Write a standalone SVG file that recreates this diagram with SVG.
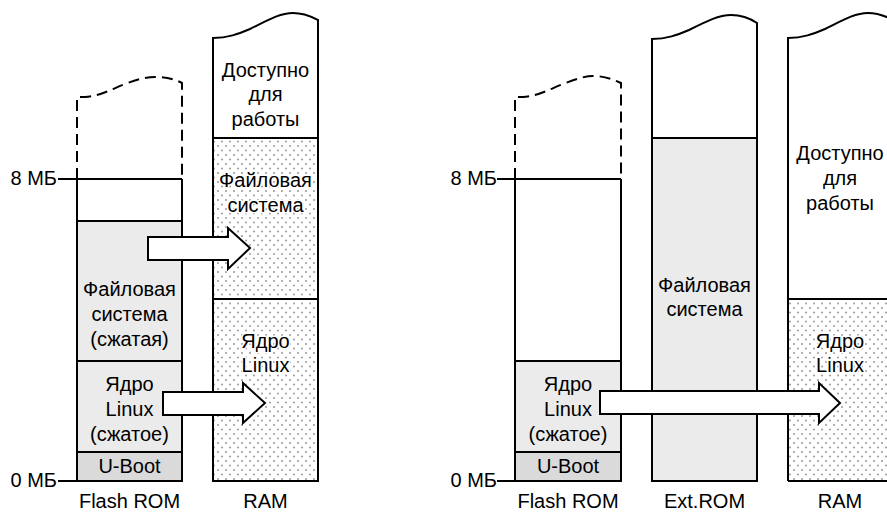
<svg xmlns="http://www.w3.org/2000/svg" width="887" height="513" viewBox="0 0 887 513">
<style>
.t{font-family:"Liberation Sans","DejaVu Sans",sans-serif;font-size:20px;fill:#000;text-anchor:middle}
.e{text-anchor:end}
.h{stroke:#fff;stroke-width:3px;paint-order:stroke;stroke-linejoin:round}
.ln{stroke:#000;stroke-width:2;fill:none}
.dash{stroke:#000;stroke-width:2;fill:none;stroke-dasharray:11,6}
.g1{fill:#ebebeb}
.g2{fill:#dadada}
.dot{fill:url(#dots)}
.arr{fill:#fff;stroke:#000;stroke-width:2;stroke-linejoin:miter}
</style>
<defs>
<pattern id="dots" width="8" height="9" patternUnits="userSpaceOnUse">
<rect width="8" height="9" fill="#fff"/>
<circle cx="2" cy="2" r="1" fill="#999"/>
<circle cx="6" cy="6.5" r="1" fill="#999"/>
</pattern>
</defs>
<rect width="887" height="513" fill="#fff"/>

<!-- LEFT DIAGRAM -->
<g id="left-flash">
<rect x="77" y="221" width="105" height="140" class="g1"/>
<rect x="77" y="361" width="105" height="91" class="g1"/>
<rect x="77" y="452" width="105" height="29" class="g2"/>
<path class="dash" d="M77,179 V97 H85 C100,96 110,90 125,84 C138,79 147,77 155,77 C168,77 176,80 182,83 V179"/>
<path class="ln" d="M77,179 V481 H182 V179"/>
<path class="ln" d="M58,179 H182 M58,481 H77 M77,221 H182 M77,361 H182 M77,452 H182"/>
<text class="t e" x="57" y="185">8 МБ</text>
<text class="t e" x="57" y="487">0 МБ</text>
<text class="t" x="129.5" y="296">Файловая</text>
<text class="t" x="129.5" y="321">система</text>
<text class="t" x="129.5" y="346">(сжатая)</text>
<text class="t" x="129.5" y="391">Ядро</text>
<text class="t" x="129.5" y="416">Linux</text>
<text class="t" x="129.5" y="441">(сжатое)</text>
<text class="t" x="129.5" y="473">U-Boot</text>
<text class="t" x="129.5" y="508">Flash ROM</text>
</g>

<g id="left-ram">
<rect x="213" y="138" width="105" height="343" class="dot"/>
<path class="ln" d="M213,481 V38 C228,38 238,34 250,29 C268,20 280,13 293,13 C305,13 312,17 318,20 V481 Z"/>
<path class="ln" d="M213,138 H318 M213,299 H318"/>
<text class="t" x="265.5" y="77">Доступно</text>
<text class="t" x="265.5" y="101">для</text>
<text class="t" x="265.5" y="126">работы</text>
<text class="t h" x="265.5" y="187">Файловая</text>
<text class="t h" x="265.5" y="212">система</text>
<text class="t h" x="265.5" y="348">Ядро</text>
<text class="t h" x="265.5" y="372">Linux</text>
<text class="t" x="265.5" y="508">RAM</text>
</g>

<!-- RIGHT DIAGRAM -->
<g id="right-flash">
<rect x="515" y="361" width="106" height="91" class="g1"/>
<rect x="515" y="452" width="106" height="29" class="g2"/>
<path class="dash" d="M515,179 V97 H523 C538,96 548,90 563,84 C576,79 585,76 593,76 C606,76 614,80 621,83 V179"/>
<path class="ln" d="M515,179 V481 H621 V179"/>
<path class="ln" d="M497,179 H621 M497,481 H515 M515,361 H621 M515,452 H621"/>
<text class="t e" x="497" y="185">8 МБ</text>
<text class="t e" x="497" y="487">0 МБ</text>
<text class="t" x="568" y="391">Ядро</text>
<text class="t" x="568" y="416">Linux</text>
<text class="t" x="568" y="441">(сжатое)</text>
<text class="t" x="568" y="473">U-Boot</text>
<text class="t" x="568" y="508">Flash ROM</text>
</g>

<g id="ext-rom">
<rect x="652" y="138" width="105" height="343" class="g1"/>
<path class="ln" d="M652,481 V39 C667,39 677,35 689,30 C707,21 719,15 731,15 C743,15 751,19 757,23 V481 Z"/>
<path class="ln" d="M652,138 H757"/>
<text class="t" x="704.5" y="292">Файловая</text>
<text class="t" x="704.5" y="316">система</text>
<text class="t" x="704.5" y="508">Ext.ROM</text>
</g>

<g id="right-ram">
<rect x="788" y="299" width="105" height="182" class="dot"/>
<path class="ln" d="M788,481 V38 C803,38 813,34 825,29 C843,20 855,13 868,13 C880,13 887,17 893,20"/>
<path class="ln" d="M788,299 H893 M788,481 H893"/>
<text class="t" x="840" y="160">Доступно</text>
<text class="t" x="840" y="185">для</text>
<text class="t" x="840" y="210">работы</text>
<text class="t h" x="840" y="348">Ядро</text>
<text class="t h" x="840" y="372">Linux</text>
<text class="t" x="840" y="508">RAM</text>
</g>

<g id="connectors">
<polygon class="arr" points="148,237 228,237 228,228 250,248 228,269 228,260 148,260"/>
<polygon class="arr" points="163,392 243,392 243,383 265,403 243,423 243,415 163,415"/>
<polygon class="arr" points="600,391 819,391 819,383 840,403 819,423 819,414 600,414"/>
</g>
</svg>
